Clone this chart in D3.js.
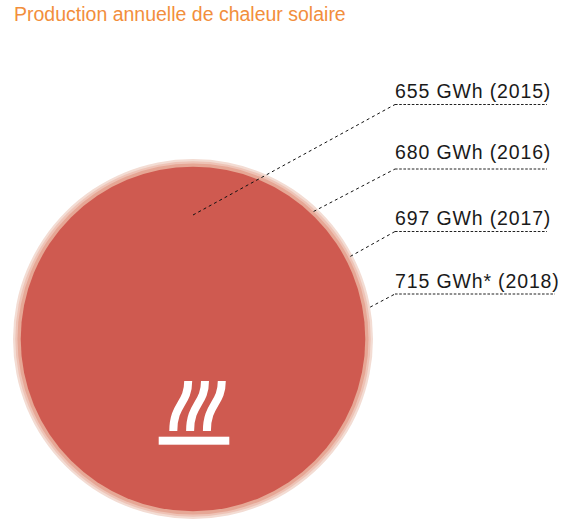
<!DOCTYPE html>
<html><head><meta charset="utf-8">
<script src="https://cdn.jsdelivr.net/npm/d3@7"></script>
<style>html,body{margin:0;padding:0;background:#fff}svg{display:block}text{font-family:"Liberation Sans",Arial,sans-serif}</style>
</head><body><svg id="c" width="574" height="519"></svg>
<script>
const title = "Production annuelle de chaleur solaire";
const years = [2018, 2017, 2016, 2015];
const values = [715, 697, 680, 655];
const labels = ["715 GWh* (2018)", "697 GWh (2017)", "680 GWh (2016)", "655 GWh (2015)"];
const fills = ["#f3dcd3", "#eec3b6", "#e6a795", "#cf5a50"];

const svg = d3.select("#c");
const cx = 193, cy = 339;
const r = d3.scaleSqrt().domain([0, 715]).range([0, 180]);

svg.append("text").attr("x", 14).attr("y", 21).attr("font-size", 19.5).attr("fill", "#f28e3c").text(title);

svg.selectAll("circle.y").data(values).join("circle").attr("class", "y")
  .attr("cx", cx).attr("cy", cy).attr("r", d => r(d))
  .attr("fill", (d, i) => fills[i]);

// heat icon
const icon = svg.append("g");
icon.append("rect").attr("fill", "#fff").attr("x", 158.7).attr("y", 436.7).attr("width", 70.6).attr("height", 8);
[0, 16.8, 33.6].forEach(dx => {
  icon.append("path").attr("transform", `translate(${dx},0)`)
    .attr("fill", "none").attr("stroke", "#fff").attr("stroke-width", 8)
    .attr("d", "M188.2,381 C188.2,404 173.3,404 173.3,431");
});

// leaders
const anchorAngles = [-10.2, -27.7, -46.6];
const ys = [294, 231.5, 169, 104.5];
const baselines = [288, 225, 159, 98];
const ends = [555, 547, 547, 547];
const elbow = 395;
const leader = d3.line();
const pts = values.map((v, i) => {
  if (i === 3) return [cx, 215];
  const a = anchorAngles[i] * Math.PI / 180;
  return [cx + r(v) * Math.cos(a), cy + r(v) * Math.sin(a)];
});
svg.selectAll("path.d").data(values).join("path").attr("class", "d")
  .attr("fill", "none").attr("stroke", "#111").attr("stroke-width", 1).attr("stroke-dasharray", "3 3")
  .attr("d", (d, i) => leader([pts[i], [elbow, ys[i]]]));
svg.selectAll("path.h").data(values).join("path").attr("class", "h")
  .attr("fill", "none").attr("stroke", "#222").attr("stroke-width", 1).attr("stroke-dasharray", "2.6 1.6")
  .attr("d", (d, i) => leader([[elbow, ys[i]], [ends[i], ys[i]]]));

svg.selectAll("text.l").data(labels).join("text").attr("class", "l")
  .attr("x", elbow).attr("y", (d, i) => baselines[i]).attr("font-size", 19.5).attr("letter-spacing", 0.86).attr("fill", "#1a1a1a")
  .text(d => d);
</script></body></html>
